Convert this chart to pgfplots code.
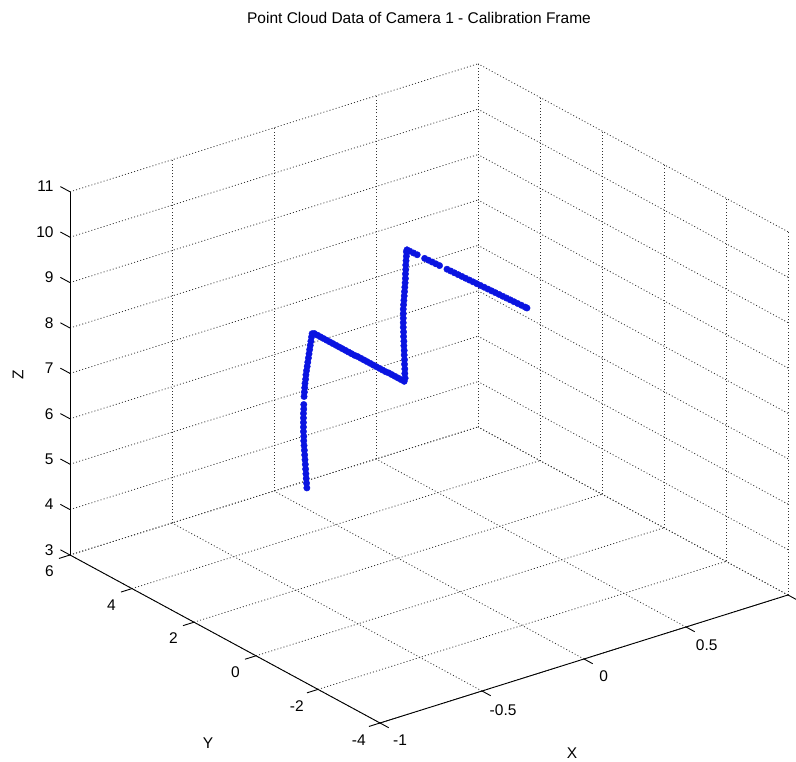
\documentclass[border=0pt]{standalone}
\usepackage{fontspec}
\setmainfont{Liberation Sans}
\usepackage{pgfplots}
\pgfplotsset{compat=1.18}
\definecolor{cloudblue}{RGB}{10,20,225}

\begin{document}
\begin{tikzpicture}
\useasboundingbox (0pt,0pt) rectangle (796pt,762pt);
\begin{axis}[
  at={(460pt,170.2pt)}, anchor=origin,
  x={(204pt,64pt)}, y={(-31pt,16.8pt)}, z={(0pt,45.4pt)},
  xmin=-1, xmax=1, ymin=-4, ymax=6, zmin=3, zmax=11,
  xtick={-1,-0.5,0,0.5,1}, xticklabels={-1,-0.5,0,0.5,{}},
  ytick={-4,-2,...,6}, ztick={3,...,11},
  grid=major,
  major grid style={black!80, line width=0.8pt, dash pattern=on 1pt off 2.2pt},
  axis line style={draw=none},
  tick align=outside, major tick length=9pt,
  tick style={draw=none},
  ticklabel style={font=\fontsize{15.5}{17}\selectfont},
  xticklabel style={xshift=6pt, yshift=-3pt},
  yticklabel style={xshift=-5pt, yshift=-4pt},
  zticklabel style={xshift=-5pt},
  /pgf/number format/assume math mode=true,
  clip=false,
]
% axis lines
\draw[black, line width=0.9pt] (axis cs:-1,-4,3) -- (axis cs:1,-4,3);
\draw[black, line width=0.9pt] (axis cs:-1,-4,3) -- (axis cs:-1,6,3);
\draw[black, line width=0.9pt] (axis cs:-1,6,3) -- (axis cs:-1,6,11);
% ticks
\pgfplotsinvokeforeach{3,4,5,6,7,8,9,10,11}{
  \draw[black, line width=0.9pt] (axis cs:-1,6,#1) -- (axis cs:-1,6.31,#1);}
\pgfplotsinvokeforeach{-4,-2,0,2,4,6}{
  \draw[black, line width=0.9pt] (axis cs:-1,#1,3) -- (axis cs:-1.054,#1,3);}
\pgfplotsinvokeforeach{-1,-0.5,0,0.5,1}{
  \draw[black, line width=0.9pt] (axis cs:#1,-4,3) -- (axis cs:#1,-4.28,3);}

\addplot3[only marks, mark=*, mark size=3.2pt, color=cloudblue] table[row sep=\\]{
x y z\\
0 4.94 3.46\\ 0 4.95 3.56\\ 0 4.96 3.66\\ 0 4.97 3.76\\ 0 4.98 3.86\\
0 4.99 3.96\\ 0 5.00 4.06\\ 0 5.01 4.16\\ 0 5.02 4.26\\ 0 5.03 4.36\\
0 5.04 4.46\\ 0 5.04 4.56\\ 0 5.05 4.66\\ 0 5.05 4.76\\ 0 5.05 4.86\\
0 5.05 4.96\\ 0 5.05 5.06\\ 0 5.04 5.16\\ 0 5.04 5.26\\
0 5.03 5.44\\ 0 5.02 5.54\\ 0 5.01 5.64\\ 0 5.00 5.74\\ 0 4.98 5.84\\
0 4.97 5.94\\ 0 4.95 6.04\\ 0 4.93 6.14\\ 0 4.91 6.24\\ 0 4.89 6.34\\
0 4.87 6.44\\ 0 4.85 6.54\\ 0 4.83 6.64\\ 0 4.81 6.74\\ 0 4.79 6.84\\
0 4.77 6.92\\
0 4.70 6.95\\ 0 4.60 6.95\\ 0 4.50 6.95\\ 0 4.40 6.95\\ 0 4.30 6.95\\
0 4.20 6.95\\ 0 4.10 6.95\\ 0 4.00 6.95\\ 0 3.90 6.95\\ 0 3.80 6.95\\
0 3.70 6.95\\ 0 3.60 6.95\\ 0 3.50 6.95\\ 0 3.40 6.95\\ 0 3.30 6.96\\
0 3.20 6.96\\ 0 3.10 6.96\\ 0 3.00 6.96\\ 0 2.90 6.96\\ 0 2.80 6.96\\
0 2.70 6.96\\ 0 2.60 6.96\\ 0 2.50 6.96\\ 0 2.40 6.96\\ 0 2.30 6.97\\
0 2.20 6.97\\ 0 2.10 6.97\\ 0 2.00 6.97\\ 0 1.90 6.97\\ 0 1.80 6.97\\
0 1.77 7.05\\ 0 1.78 7.15\\ 0 1.78 7.25\\ 0 1.79 7.35\\ 0 1.79 7.45\\
0 1.80 7.55\\ 0 1.80 7.65\\ 0 1.81 7.75\\ 0 1.81 7.85\\ 0 1.82 7.95\\
0 1.82 8.05\\ 0 1.83 8.15\\ 0 1.83 8.25\\ 0 1.83 8.35\\ 0 1.83 8.45\\
0 1.83 8.55\\ 0 1.82 8.65\\ 0 1.81 8.75\\ 0 1.80 8.85\\ 0 1.79 8.95\\
0 1.78 9.05\\ 0 1.77 9.15\\ 0 1.76 9.25\\ 0 1.76 9.35\\ 0 1.75 9.45\\
0 1.75 9.55\\ 0 1.74 9.65\\ 0 1.73 9.75\\ 0 1.73 9.85\\ 0 1.71 9.90\\
0 1.62 9.903\\ 0 1.50 9.908\\ 0 1.38 9.913\\
0 1.14 9.922\\ 0 1.02 9.927\\ 0 0.90 9.931\\ 0 0.78 9.936\\ 0 0.66 9.941\\
0 0.42 9.950\\ 0 0.30 9.955\\ 0 0.18 9.959\\ 0 0.06 9.964\\ 0 -0.06 9.969\\
0 -0.18 9.973\\ 0 -0.30 9.978\\ 0 -0.42 9.983\\ 0 -0.54 9.987\\ 0 -0.66 9.992\\
0 -0.78 9.997\\ 0 -0.90 10.001\\ 0 -1.02 10.006\\ 0 -1.14 10.011\\ 0 -1.26 10.016\\
0 -1.38 10.020\\ 0 -1.50 10.025\\ 0 -1.62 10.030\\ 0 -1.74 10.034\\ 0 -1.86 10.039\\
0 -1.98 10.044\\ 0 -2.10 10.048\\ 0 -2.16 10.050\\
};
\end{axis}
\node[font=\fontsize{15.5}{17}\selectfont] at (419pt,744pt) {Point Cloud Data of Camera 1 - Calibration Frame};
\node[font=\fontsize{15.5}{17}\selectfont] at (572pt,9pt) {X};
\node[font=\fontsize{15.5}{17}\selectfont] at (208pt,19pt) {Y};
\node[font=\fontsize{15.5}{17}\selectfont, rotate=90] at (18pt,387pt) {Z};
\end{tikzpicture}
\end{document}
